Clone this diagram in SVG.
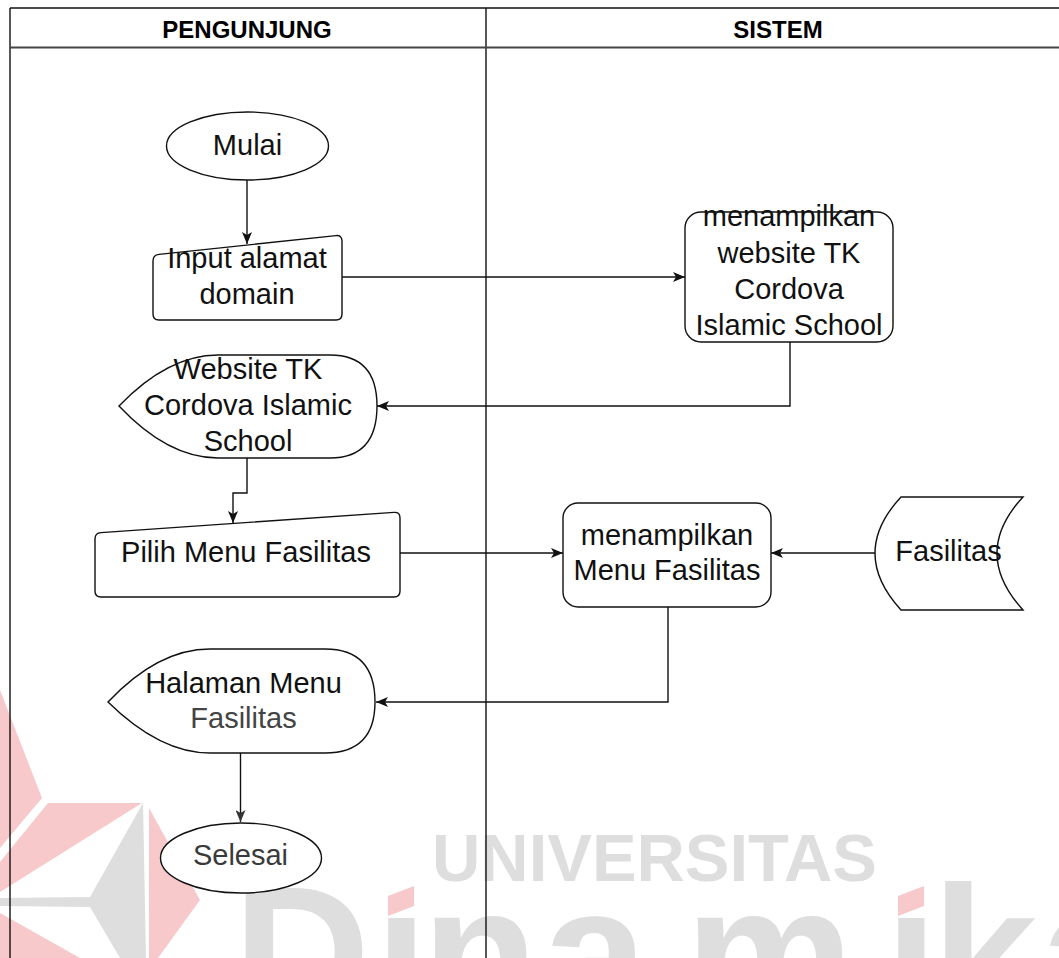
<svg xmlns="http://www.w3.org/2000/svg" width="1059" height="958" viewBox="0 0 1059 958">
<style>
.t{font-family:"Liberation Sans",Arial,sans-serif;font-size:29px;fill:#111;text-anchor:middle}
.h{font-family:"Liberation Sans",Arial,sans-serif;font-size:24px;font-weight:bold;fill:#000;text-anchor:middle}
.s{fill:#fff;stroke:#111;stroke-width:1.4}
.c{fill:none;stroke:#111;stroke-width:1.4}
.wm{font-family:"Liberation Sans",Arial,sans-serif;font-weight:bold;fill:#dedede}
.pk{fill:#f7c9cb}
.gy{fill:#dedede}
</style>
<defs>
<marker id="ar" viewBox="0 0 12 10" refX="12" refY="5" markerWidth="12" markerHeight="10" markerUnits="userSpaceOnUse" orient="auto">
<path d="M0,0 L12,5 L0,10 L3,5 Z" fill="#111"/>
</marker>
<marker id="arg" viewBox="0 0 12 10" refX="12" refY="5" markerWidth="12" markerHeight="10" markerUnits="userSpaceOnUse" orient="auto">
<path d="M0,0 L12,5 L0,10 L3,5 Z" fill="#333"/>
</marker>
</defs>
<rect width="1059" height="958" fill="#fff"/>

<g id="watermark">
<polygon class="pk" points="0,690 42,798 0,848"/>
<polygon class="pk" points="48,803 142,803 0,892 0,862"/>
<polygon class="gy" points="143,803 90,897 0,898 0,906 90,907 120,958 146,958"/>
<polygon class="pk" points="149,808 200,900 158,958 149,958"/>
<polygon class="pk" points="0,913 80,958 0,958"/>
<text class="wm" x="432" y="881" font-size="67" textLength="445" lengthAdjust="spacingAndGlyphs">UNIVERSITAS</text>
<text class="wm" y="1018" font-size="190"><tspan x="233">D</tspan><tspan x="375">i</tspan><tspan x="422">n</tspan><tspan x="542">a</tspan><tspan x="685">m</tspan><tspan x="885">i</tspan><tspan x="932">k</tspan><tspan x="1040">a</tspan></text>
<rect x="384" y="876" width="34" height="38" fill="#fff"/>
<rect x="894" y="876" width="34" height="38" fill="#fff"/>
<polygon class="pk" points="388,896 414,886 414,906 388,916"/>
<polygon class="pk" points="898,896 924,886 924,906 898,916"/>
</g>

<g id="lanes" fill="none" stroke="#111" stroke-width="1.4">
<line x1="10" y1="8" x2="1059" y2="8"/>
<line x1="10" y1="8" x2="10" y2="958"/>
<line x1="486" y1="8" x2="486" y2="958"/>
<line x1="10" y1="47.5" x2="1059" y2="47.5" stroke="#444" stroke-width="2"/>
</g>
<g id="lane-headers">
<text class="h" x="247" y="38">PENGUNJUNG</text>
<text class="h" x="778" y="38">SISTEM</text>
</g>

<g id="connectors">
<line class="c" x1="247" y1="180" x2="247" y2="244" marker-end="url(#ar)"/>
<line class="c" x1="342" y1="277" x2="685" y2="277" marker-end="url(#ar)"/>
<polyline class="c" points="790,342 790,406 377,406" marker-end="url(#ar)"/>
<polyline class="c" points="247,458 247,493 233,493 233,523" marker-end="url(#ar)"/>
<line class="c" x1="400" y1="553" x2="563" y2="553" marker-end="url(#ar)"/>
<line class="c" x1="875" y1="553" x2="771" y2="553" marker-end="url(#ar)"/>
<polyline class="c" points="668,607 668,702 376,702" marker-end="url(#ar)"/>
<line class="c" x1="240.5" y1="753" x2="240.5" y2="822" stroke="#333" marker-end="url(#arg)"/>
</g>

<g id="mulai">
<ellipse class="s" cx="247.5" cy="146" rx="81" ry="34"/>
<text class="t" x="247.5" y="155">Mulai</text>
</g>
<g id="input-domain">
<path class="s" d="M153,261 Q153,255 159,254.4 L336,235.6 Q342,235 342,241 L342,314 Q342,320 336,320 L159,320 Q153,320 153,314 Z"/>
<text class="t" x="247" y="268">Input alamat</text>
<text class="t" x="247" y="304">domain</text>
</g>
<g id="tampil-website">
<rect class="s" x="685" y="212" width="208" height="130" rx="16"/>
<text class="t" x="789" y="226">menampilkan</text>
<text class="t" x="789" y="263">website TK</text>
<text class="t" x="789" y="299">Cordova</text>
<text class="t" x="789" y="335">Islamic School</text>
</g>
<g id="website-display">
<path class="s" d="M218,355 L330,355 Q377,355 377,406 Q377,458 330,458 L218,458 Q168,458 119,406 Q168,355 218,355 Z"/>
<text class="t" x="248" y="379">Website TK</text>
<text class="t" x="248" y="415">Cordova Islamic</text>
<text class="t" x="248" y="451">School</text>
</g>
<g id="pilih-menu">
<path class="s" d="M95,539 Q95,533 101,532.6 L394,512.4 Q400,512 400,518 L400,591 Q400,597 394,597 L101,597 Q95,597 95,591 Z"/>
<text class="t" x="246" y="562">Pilih Menu Fasilitas</text>
</g>
<g id="tampil-menu">
<rect class="s" x="563" y="503" width="208" height="104" rx="15"/>
<text class="t" x="667" y="545">menampilkan</text>
<text class="t" x="667" y="580">Menu Fasilitas</text>
</g>
<g id="data-fasilitas">
<path class="s" d="M901,497 L1023,497 Q971,553 1023,610 L901,610 Q849,553 901,497 Z"/>
<text class="t" x="948.5" y="561">Fasilitas</text>
</g>
<g id="halaman-display">
<path class="s" d="M210,649 L325,649 Q375,649 375,702 Q375,753 325,753 L210,753 Q160,753 108,702 Q158,649 210,649 Z" stroke="#222"/>
<text class="t" x="243.5" y="693">Halaman Menu</text>
<text class="t" x="243.5" y="728" style="fill:#444">Fasilitas</text>
</g>
<g id="selesai">
<ellipse class="s" cx="241" cy="858" rx="80.5" ry="35" stroke="#222"/>
<text class="t" x="240.5" y="865" style="fill:#3a3a3a">Selesai</text>
</g>
</svg>
